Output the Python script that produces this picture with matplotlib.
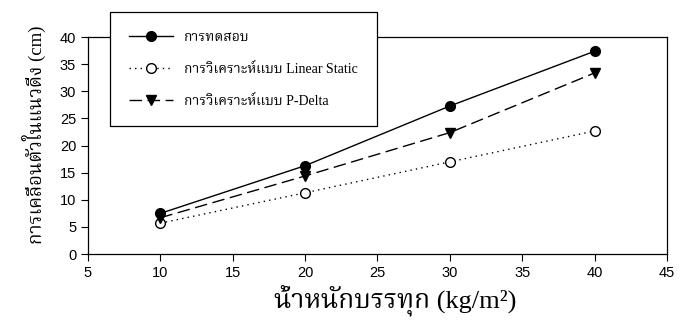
import matplotlib

matplotlib.use("Agg")

import matplotlib.pyplot as plt

# load in kg/m2 vs lateral displacement in cm
loads = [10, 20, 30, 40]
test_disp = [7.5, 16.3, 27.3, 37.4]
linear_static_disp = [5.7, 11.3, 17.0, 22.7]
p_delta_disp = [6.7, 14.4, 22.4, 33.4]

series_labels = [
    "การทดสอบ",
    "การวิเคราะห์แบบ Linear Static",
    "การวิเคราะห์แบบ P-Delta",
]
x_label = "น้ำหนักบรรทุก (kg/m²)"
y_label = "การเคลื่อนตัวในแนวดิ่ง (cm)"
x_ticks = [5, 10, 15, 20, 25, 30, 35, 40, 45]
y_ticks = [0, 5, 10, 15, 20, 25, 30, 35, 40]

THAI_SERIF = ["Liberation Serif", "Noto Serif Thai", "DejaVu Sans"]


def main() -> None:
    fig = plt.figure(figsize=(6.82, 3.2), dpi=100)
    ax = fig.add_axes([0.129, 0.206, 0.849, 0.678])

    ax.plot(loads, test_disp, color="black", linewidth=1, linestyle="-",
            marker="o", markersize=7, markerfacecolor="black",
            markeredgecolor="black", label=series_labels[0])
    ax.plot(loads, linear_static_disp, color="black", linewidth=1,
            linestyle=(0, (1, 3)), marker="o", markersize=7,
            markerfacecolor="white", markeredgecolor="black",
            label=series_labels[1])
    ax.plot(loads, p_delta_disp, color="black", linewidth=1,
            linestyle=(0, (9, 4)), marker="v", markersize=7.5,
            markerfacecolor="black", markeredgecolor="black",
            label=series_labels[2])

    ax.set_xlim(5, 45)
    ax.set_ylim(0, 40)
    ax.set_xticks(x_ticks)
    ax.set_yticks(y_ticks)
    ax.tick_params(direction="out", length=5, width=0.8,
                   labelsize=10.5, top=False, right=False)
    for lbl in ax.get_xticklabels() + ax.get_yticklabels():
        lbl.set_family(["Liberation Sans", "DejaVu Sans"])

    for spine in ax.spines.values():
        spine.set_linewidth(0.9)

    ax.set_xlabel(x_label, family=THAI_SERIF, fontsize=19)
    ax.xaxis.set_label_coords(0.53, -0.14)
    ax.set_ylabel(y_label, family=THAI_SERIF, fontsize=13.5)
    ax.yaxis.set_label_coords(-0.072, 0.55)

    legend = ax.legend(
        loc="upper left",
        bbox_to_anchor=(0.038, 1.115),
        prop={"family": THAI_SERIF, "size": 10},
        frameon=True,
        fancybox=False,
        framealpha=1,
        edgecolor="black",
        handlelength=3.2,
        handletextpad=0.8,
        labelspacing=1.35,
        borderpad=1.35,
        borderaxespad=0,
    )
    legend.get_frame().set_linewidth(0.9)
    legend.set_clip_on(False)

    fig.savefig("out.png", dpi=100)
    plt.close(fig)


if __name__ == "__main__":
    main()
